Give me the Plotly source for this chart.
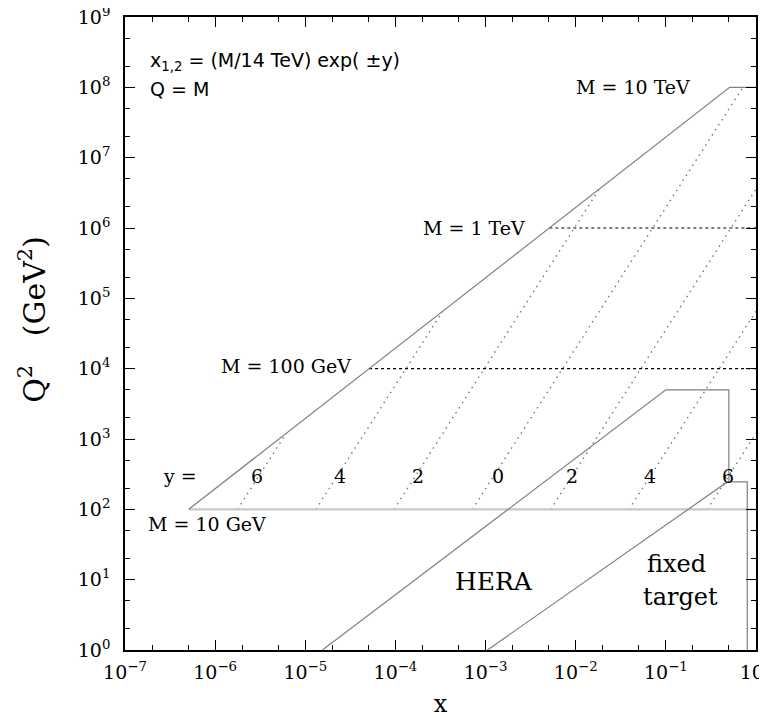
import plotly.graph_objects as go
import math

# --- data ---
# kinematic envelope x = M^2/s (solid)
env_x = [5.1e-7, 0.51, 1.0]
env_q2 = [100, 1e8, 1e8]

# constant-mass lines: (x start, Q^2)
mass_labels = ["M = 10 GeV", "M = 100 GeV", "M = 1 TeV", "M = 10 TeV"]
mass_q2 = [1e2, 1e4, 1e6, 1e8]
mass_xstart = [5.1e-7, 5.1e-5, 5.1e-3, 0.51]

# constant-rapidity lines (dotted): start x at Q^2=100, end point
rap_labels = ["6", "4", "2", "0", "2", "4", "6"]
rap_x_start = [1.77e-6, 1.31e-5, 9.67e-5, 7.14e-4, 5.28e-3, 0.039, 0.288]
rap_x_end = [6.15e-6, 3.35e-4, 0.0183, 0.714, 1.0, 1.0, 1.0]
rap_q2_end = [1204, 6.57e4, 3.59e6, 1e8, 3.59e6, 6.57e4, 1204]
rap_label_x = [2.95e-6, 2.4e-5, 1.8e-4, 1.36e-3, 9.1e-3, 6.7e-2, 0.49]

# HERA region boundary
hera_x = [1.55e-5, 0.1, 0.5, 0.5]
hera_q2 = [1.0, 5000, 5000, 240]
# fixed target region boundary
fixed_x = [1.05e-3, 0.48, 0.8, 0.8]
fixed_q2 = [1.0, 245, 245, 1.0]

x_tickvals = [1e-7, 1e-6, 1e-5, 1e-4, 1e-3, 1e-2, 1e-1, 1]
x_ticktext = ["10<sup>−7</sup>", "10<sup>−6</sup>", "10<sup>−5</sup>", "10<sup>−4</sup>",
              "10<sup>−3</sup>", "10<sup>−2</sup>", "10<sup>−1</sup>", "10<sup>0</sup>"]
y_tickvals = [1, 1e1, 1e2, 1e3, 1e4, 1e5, 1e6, 1e7, 1e8, 1e9]
y_ticktext = ["10<sup>%d</sup>" % i for i in range(10)]

SERIF = "DejaVu Serif, Liberation Serif, serif"
SANS = "DejaVu Sans, Liberation Sans, sans-serif"

fig = go.Figure()

# rapidity lines
for xs, xe, qe in zip(rap_x_start, rap_x_end, rap_q2_end):
    fig.add_trace(go.Scatter(x=[xs, xe], y=[100, qe], mode="lines",
                             line=dict(color="#777777", width=1.4, dash="1.5px,4.5px"),
                             hoverinfo="skip", showlegend=False))

# M = 10 GeV (light gray thick)
fig.add_trace(go.Scatter(x=[mass_xstart[0], 1.0], y=[mass_q2[0]] * 2, mode="lines",
                         line=dict(color="#c8c8c8", width=2.2), showlegend=False))
# M = 100 GeV and 1 TeV (dashed black)
for xs, q in zip(mass_xstart[1:3], mass_q2[1:3]):
    fig.add_trace(go.Scatter(x=[xs, 1.0], y=[q, q], mode="lines",
                             line=dict(color="black", width=1.2, dash="3px,3px"),
                             showlegend=False))

# envelope
fig.add_trace(go.Scatter(x=env_x, y=env_q2, mode="lines",
                         line=dict(color="#808080", width=1.2), showlegend=False))
# HERA
fig.add_trace(go.Scatter(x=hera_x, y=hera_q2, mode="lines",
                         line=dict(color="#808080", width=1.2), showlegend=False))
# fixed target
fig.add_trace(go.Scatter(x=fixed_x, y=fixed_q2, mode="lines",
                         line=dict(color="#808080", width=1.2), showlegend=False))

L = math.log10
ann = []
def add_text(x, y, text, size, font=SERIF, xanchor="center"):
    ann.append(dict(x=L(x), y=L(y), xref="x", yref="y", text=text, showarrow=False,
                    font=dict(family=font, size=size, color="black"), xanchor=xanchor,
                    yanchor="middle"))

# mass labels
add_text(0.043, 1.0e8, mass_labels[3], 19)
add_text(2.9e-3, 1.0e6, mass_labels[2], 19, xanchor="right")
add_text(3.4e-5, 1.1e4, mass_labels[1], 19, xanchor="right")
add_text(8.1e-7, 61, mass_labels[0], 19)

# rapidity labels
add_text(4.1e-7, 296, "y =", 19)
for xv, t in zip(rap_label_x, rap_labels):
    add_text(xv, 296, t, 19)

add_text(1.25e-3, 10 ** 0.98, "HERA", 25)
add_text(0.13, 10 ** 1.22, "fixed", 24)
add_text(0.145, 10 ** 0.75, "target", 24)

# formula text (sans)
ann.append(dict(x=0.036, y=0.930, xref="paper", yref="paper",
                text="x<sub>1,2</sub> = (M/14 TeV) exp( ±y)", showarrow=False,
                font=dict(family=SANS, size=19, color="black"), xanchor="left", yanchor="middle"))
ann.append(dict(x=0.036, y=0.887, xref="paper", yref="paper",
                text="Q = M", showarrow=False,
                font=dict(family=SANS, size=19, color="black"), xanchor="left", yanchor="middle"))

# y-axis title as a rotated annotation (for exact placement)
ann.append(dict(x=-0.146, y=0.523, xref="paper", yref="paper",
                text="Q<sup>2</sup>   (GeV<sup>2</sup>)", showarrow=False, textangle=-90,
                font=dict(family=SERIF, size=30, color="black"),
                xanchor="center", yanchor="middle"))

# page body adds an 8px offset, so the figure is sized/margined to compensate
fig.update_layout(
    width=759, height=710,
    margin=dict(l=117, r=11, t=9, b=68, autoexpand=False),
    paper_bgcolor="white", plot_bgcolor="white",
    showlegend=False,
    annotations=ann,
)
axis_common = dict(type="log", showgrid=False, zeroline=False, showline=True,
                   automargin=False,
                   linecolor="black", linewidth=1.5, mirror="allticks",
                   ticks="inside", ticklen=10, tickwidth=1.2, tickcolor="black",
                   tickfont=dict(family=SERIF, size=19, color="black"),
                   minor=dict(ticks="inside", ticklen=5, tickwidth=1, tickcolor="black",
                              showgrid=False))
fig.update_xaxes(range=[-7, 0], tickvals=x_tickvals, ticktext=x_ticktext,
                 ticklabelstandoff=4, ticklabeloverflow="allow",
                 title=dict(text="x", font=dict(family=SERIF, size=24, color="black"), standoff=14),
                 **axis_common)
fig.update_yaxes(range=[0, 9], tickvals=y_tickvals, ticktext=y_ticktext,
                 ticklabelstandoff=9, ticklabeloverflow="allow",
                 **axis_common)

fig.write_html("out.html")
